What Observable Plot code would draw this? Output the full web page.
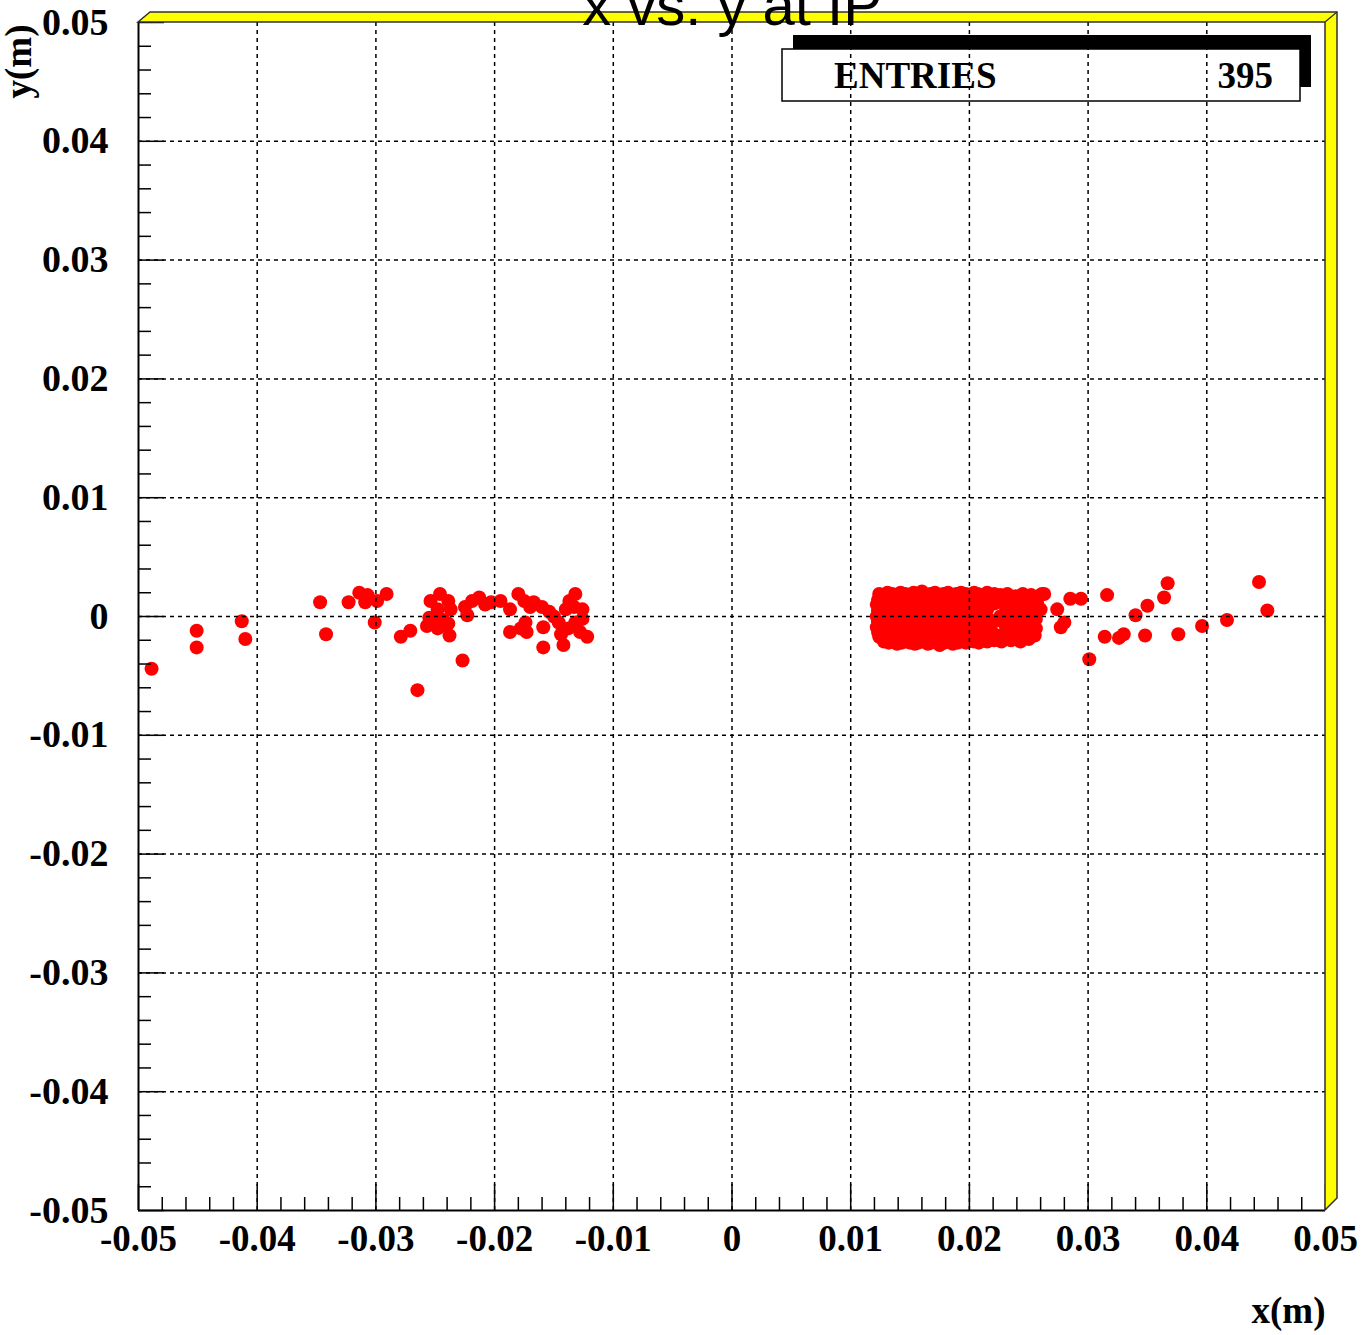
<!DOCTYPE html>
<html>
<head>
<meta charset="utf-8">
<script src="https://cdn.jsdelivr.net/npm/d3@7"></script>
<script src="https://cdn.jsdelivr.net/npm/@observablehq/plot@0.6"></script>
<style>
  html, body { margin: 0; padding: 0; background: white; overflow: hidden; }
</style>
</head>
<body>
<div id="chart"></div>
<script>
// Hit positions at the interaction point, [x (m), y (m)]

// sparse hits on the negative-x side
const leftTail = [
  [-0.0489,-0.0044],[-0.0451,-0.0012],[-0.0451,-0.0026],[-0.0413,-0.0004],[-0.0410,-0.0019],
  [-0.0347,0.0012],[-0.0342,-0.0015],[-0.0323,0.0012],[-0.0314,0.0020],[-0.0307,0.0018],
  [-0.0309,0.0012],[-0.0299,0.0013],[-0.0291,0.0019],[-0.0301,-0.0005],[-0.0279,-0.0017],
  [-0.0271,-0.0012],[-0.0265,-0.0062],[-0.0227,-0.0037],[-0.0246,0.0019],[-0.0254,0.0013],
  [-0.0239,0.0013],[-0.0248,0.0006],[-0.0237,0.0006],[-0.0255,-0.0001],[-0.0257,-0.0008],
  [-0.0246,-0.0008],[-0.0239,-0.0006],[-0.0238,-0.0016],[-0.0248,-0.0010],[-0.0223,0.0001],
  [-0.0219,0.0013],[-0.0225,0.0008],[-0.0213,0.0016],[-0.0203,0.0012],[-0.0195,0.0013],
  [-0.0180,0.0019],[-0.0175,0.0013],[-0.0187,0.0006],[-0.0167,0.0012],[-0.0160,0.0008],
  [-0.0154,0.0004],[-0.0187,-0.0013],[-0.0178,-0.0010],[-0.0174,-0.0005],[-0.0173,-0.0013],
  [-0.0159,-0.0009],[-0.0159,-0.0026],[-0.0146,-0.0005],[-0.0140,0.0006],[-0.0137,0.0013],
  [-0.0132,0.0019],[-0.0133,0.0008],[-0.0144,-0.0015],[-0.0142,-0.0024],[-0.0132,-0.0005],
  [-0.0126,-0.0002],[-0.0122,-0.0017],[-0.0128,-0.0013],[-0.0138,-0.0010],[-0.0250,0.0000],
  [-0.0243,-0.0003],[-0.0170,0.0008],[-0.0150,0.0000],[-0.0208,0.0010],[-0.0126,0.0006]
];

// dense core of the beam spot, x 0.012 .. 0.022
const coreDense = [
  [0.0124,0.0019],[0.0128,0.0018],[0.0131,0.0020],[0.0135,0.0019],[0.0139,0.0017],[0.0142,0.0020],[0.0146,0.0019],
  [0.0150,0.0018],[0.0153,0.0020],[0.0156,0.0019],[0.0160,0.0021],[0.0164,0.0018],[0.0167,0.0019],[0.0171,0.0020],
  [0.0175,0.0018],[0.0178,0.0019],[0.0182,0.0020],[0.0186,0.0018],[0.0189,0.0019],[0.0193,0.0020],[0.0197,0.0019],
  [0.0200,0.0018],[0.0204,0.0020],[0.0207,0.0019],[0.0211,0.0018],[0.0215,0.0020],[0.0218,0.0017],[0.0221,0.0019],

  [0.0123,0.0014],[0.0126,0.0015],[0.0130,0.0013],[0.0134,0.0014],[0.0137,0.0015],[0.0141,0.0013],[0.0144,0.0014],
  [0.0148,0.0015],[0.0152,0.0014],[0.0155,0.0013],[0.0159,0.0015],[0.0162,0.0014],[0.0166,0.0013],[0.0170,0.0015],
  [0.0173,0.0014],[0.0177,0.0013],[0.0180,0.0015],[0.0184,0.0014],[0.0188,0.0013],[0.0191,0.0015],[0.0195,0.0014],
  [0.0198,0.0013],[0.0202,0.0015],[0.0206,0.0014],[0.0209,0.0013],[0.0213,0.0015],[0.0216,0.0014],[0.0220,0.0013],

  [0.0122,0.0010],[0.0126,0.0009],[0.0129,0.0011],[0.0133,0.0010],[0.0136,0.0009],[0.0140,0.0011],[0.0143,0.0010],
  [0.0147,0.0009],[0.0151,0.0011],[0.0154,0.0010],[0.0158,0.0009],[0.0161,0.0011],[0.0165,0.0010],[0.0169,0.0009],
  [0.0172,0.0011],[0.0176,0.0010],[0.0179,0.0009],[0.0183,0.0011],[0.0187,0.0010],[0.0190,0.0009],[0.0194,0.0011],
  [0.0197,0.0010],[0.0201,0.0009],[0.0205,0.0011],[0.0208,0.0010],[0.0212,0.0011],[0.0217,0.0012],[0.0221,0.0011],

  [0.0123,0.0005],[0.0127,0.0006],[0.0130,0.0004],[0.0134,0.0005],[0.0137,0.0006],[0.0141,0.0004],[0.0144,0.0005],
  [0.0148,0.0006],[0.0151,0.0004],[0.0155,0.0005],[0.0158,0.0006],[0.0162,0.0004],[0.0165,0.0005],[0.0169,0.0006],
  [0.0172,0.0004],[0.0175,0.0005],[0.0179,0.0006],[0.0182,0.0004],[0.0186,0.0005],[0.0189,0.0006],[0.0192,0.0004],
  [0.0196,0.0005],[0.0199,0.0006],[0.0203,0.0004],[0.0206,0.0005],[0.0209,0.0006],[0.0212,0.0004],[0.0215,0.0006],

  [0.0122,0.0000],[0.0126,0.0001],[0.0129,-0.0001],[0.0133,0.0000],[0.0137,0.0001],[0.0140,-0.0001],[0.0144,0.0000],
  [0.0147,0.0001],[0.0151,-0.0001],[0.0154,0.0000],[0.0158,0.0001],[0.0161,-0.0001],[0.0165,0.0000],[0.0168,0.0001],
  [0.0172,-0.0001],[0.0175,0.0000],[0.0179,0.0001],[0.0182,-0.0001],[0.0186,0.0000],[0.0189,0.0001],[0.0193,-0.0001],
  [0.0196,0.0000],[0.0200,0.0001],[0.0203,-0.0001],[0.0207,0.0000],[0.0211,0.0001],[0.0215,-0.0001],

  [0.0123,-0.0004],[0.0127,-0.0005],[0.0130,-0.0003],[0.0134,-0.0004],[0.0138,-0.0005],[0.0141,-0.0003],[0.0145,-0.0004],
  [0.0148,-0.0005],[0.0152,-0.0003],[0.0156,-0.0004],[0.0159,-0.0005],[0.0163,-0.0003],[0.0166,-0.0004],[0.0170,-0.0005],
  [0.0174,-0.0003],[0.0177,-0.0004],[0.0181,-0.0005],[0.0184,-0.0003],[0.0188,-0.0004],[0.0192,-0.0005],[0.0195,-0.0003],
  [0.0199,-0.0004],[0.0203,-0.0005],[0.0206,-0.0003],[0.0210,-0.0004],[0.0215,-0.0005],[0.0221,-0.0004],

  [0.0122,-0.0009],[0.0126,-0.0008],[0.0129,-0.0010],[0.0133,-0.0009],[0.0136,-0.0008],[0.0140,-0.0010],[0.0144,-0.0009],
  [0.0147,-0.0008],[0.0151,-0.0010],[0.0155,-0.0009],[0.0158,-0.0008],[0.0162,-0.0010],[0.0165,-0.0009],[0.0169,-0.0008],
  [0.0173,-0.0010],[0.0176,-0.0009],[0.0180,-0.0008],[0.0183,-0.0010],[0.0187,-0.0009],[0.0191,-0.0008],[0.0194,-0.0010],
  [0.0198,-0.0009],[0.0201,-0.0008],[0.0205,-0.0010],[0.0209,-0.0009],[0.0213,-0.0008],[0.0217,-0.0010],

  [0.0123,-0.0013],[0.0127,-0.0014],[0.0130,-0.0012],[0.0134,-0.0013],[0.0137,-0.0014],[0.0141,-0.0012],[0.0145,-0.0013],
  [0.0148,-0.0014],[0.0152,-0.0012],[0.0155,-0.0013],[0.0159,-0.0014],[0.0163,-0.0012],[0.0166,-0.0013],[0.0170,-0.0014],
  [0.0173,-0.0012],[0.0177,-0.0013],[0.0181,-0.0014],[0.0184,-0.0012],[0.0188,-0.0013],[0.0191,-0.0014],[0.0195,-0.0012],
  [0.0199,-0.0013],[0.0202,-0.0014],[0.0206,-0.0012],[0.0210,-0.0013],[0.0214,-0.0014],[0.0219,-0.0013],

  [0.0124,-0.0017],[0.0127,-0.0018],[0.0131,-0.0019],[0.0135,-0.0018],[0.0138,-0.0017],[0.0142,-0.0019],[0.0146,-0.0018],
  [0.0149,-0.0017],[0.0153,-0.0019],[0.0156,-0.0018],[0.0160,-0.0017],[0.0164,-0.0019],[0.0167,-0.0018],[0.0171,-0.0017],
  [0.0174,-0.0019],[0.0178,-0.0018],[0.0182,-0.0017],[0.0185,-0.0019],[0.0189,-0.0018],[0.0192,-0.0017],[0.0196,-0.0019],
  [0.0200,-0.0018],[0.0203,-0.0017],[0.0207,-0.0019],[0.0211,-0.0018],[0.0215,-0.0017],[0.0219,-0.0018],

  [0.0128,-0.0021],[0.0132,-0.0022],[0.0136,-0.0021],[0.0139,-0.0023],[0.0143,-0.0022],[0.0147,-0.0021],[0.0150,-0.0022],
  [0.0154,-0.0023],[0.0157,-0.0022],[0.0161,-0.0021],[0.0165,-0.0023],[0.0168,-0.0022],[0.0172,-0.0021],[0.0175,-0.0024],
  [0.0179,-0.0022],[0.0182,-0.0021],[0.0186,-0.0023],[0.0190,-0.0022],[0.0193,-0.0021],[0.0197,-0.0022],[0.0200,-0.0020],
  [0.0204,-0.0021],[0.0208,-0.0022],[0.0211,-0.0020],[0.0215,-0.0021],[0.0218,-0.0019],[0.0221,-0.0020]
];

// looser fringe of the core, x 0.022 .. 0.027
const coreFringe = [
  [0.0226,0.0018],[0.0232,0.0019],[0.0239,0.0017],[0.0245,0.0019],[0.0252,0.0018],[0.0258,0.0017],[0.0263,0.0019],
  [0.0228,0.0012],[0.0236,0.0013],[0.0243,0.0011],[0.0250,0.0013],[0.0257,0.0011],
  [0.0231,0.0006],[0.0240,0.0006],[0.0250,0.0005],[0.0260,0.0006],
  [0.0226,0.0000],[0.0235,-0.0001],[0.0246,0.0000],[0.0256,-0.0002],
  [0.0230,-0.0007],[0.0242,-0.0006],[0.0253,-0.0007],
  [0.0237,-0.0012],[0.0246,-0.0011],[0.0256,-0.0010],
  [0.0226,-0.0016],[0.0233,-0.0017],[0.0240,-0.0016],[0.0248,-0.0017],[0.0255,-0.0016],
  [0.0227,-0.0021],[0.0235,-0.0020],[0.0243,-0.0021],[0.0250,-0.0019]
];

// sparse hits beyond the core on the positive-x side
const rightTail = [
  [0.0261,0.0019],[0.0274,0.0006],[0.0277,-0.0009],[0.0280,-0.0005],[0.0285,0.0015],
  [0.0294,0.0015],[0.0301,-0.0036],[0.0314,-0.0017],[0.0316,0.0018],[0.0326,-0.0018],
  [0.0330,-0.0015],[0.0340,0.0001],[0.0348,-0.0016],[0.0350,0.0009],[0.0364,0.0016],
  [0.0367,0.0028],[0.0376,-0.0015],[0.0396,-0.0008],[0.0417,-0.0003],[0.0444,0.0029],
  [0.0451,0.0005]
];

// axes
const majorTicks = [-0.05, -0.04, -0.03, -0.02, -0.01, 0, 0.01, 0.02, 0.03, 0.04, 0.05];
const tickLabels = ["-0.05", "-0.04", "-0.03", "-0.02", "-0.01", "0", "0.01", "0.02", "0.03", "0.04", "0.05"];
const titleText = "x vs. y at IP";
const xTitle = "x(m)";
const yTitle = "y(m)";
const statsName = "ENTRIES";

const hits = [...leftTail, ...coreDense, ...coreFringe, ...rightTail].map(([x, y]) => ({x, y}));

// five subdivisions per major division
const minorTicks = d3.range(-25, 26)
  .filter(k => k % 5 !== 0)
  .map(k => +(k * 0.002).toFixed(3));
const innerTicks = majorTicks.slice(1, -1);
const fmt = d => tickLabels[majorTicks.indexOf(d)];

const W = 1372, H = 1335;
const M = {top: 22, right: 47, bottom: 125, left: 138};
const frameW = W - M.left - M.right;
const frameH = H - M.top - M.bottom;

const serif = "'Liberation Serif', 'Times New Roman', Times, serif";
const sans = "'Liberation Sans', Arial, Helvetica, sans-serif";

// statistics box with its drop shadow, at the top right of the frame
function statsBox(index, scales, values, dims) {
  const g = d3.create("svg:g");
  const right = dims.width - dims.marginRight - 25;
  const top = dims.marginTop + 27;
  const w = 518, h = 52;
  g.append("rect")
    .attr("x", right - w + 11).attr("y", top - 14)
    .attr("width", w).attr("height", h)
    .attr("fill", "black");
  g.append("rect")
    .attr("x", right - w).attr("y", top)
    .attr("width", w).attr("height", h)
    .attr("fill", "white").attr("stroke", "black").attr("stroke-width", 1.5);
  g.append("text")
    .attr("x", right - w + 52).attr("y", top + 39)
    .attr("text-anchor", "start")
    .attr("font-family", serif).attr("font-weight", "bold").attr("font-size", 37)
    .attr("fill", "black")
    .text(statsName);
  g.append("text")
    .attr("x", right - 27).attr("y", top + 39)
    .attr("text-anchor", "end")
    .attr("font-family", serif).attr("font-weight", "bold").attr("font-size", 37)
    .attr("fill", "black")
    .text(String(hits.length));
  return g.node();
}

// raised yellow border along the top and right of the frame
function bevel(index, scales, values, dims) {
  const l = dims.marginLeft, r = dims.width - dims.marginRight;
  const t = dims.marginTop, b = dims.height - dims.marginBottom;
  const dx = 12, dy = 10;
  const g = d3.create("svg:g");
  g.append("polygon")
    .attr("points", [[l, t], [l + dx, t - dy], [r + dx, t - dy], [r + dx, b - dx], [r, b], [r, t]].join(" "))
    .attr("fill", "#ffff00")
    .attr("stroke", "#303030")
    .attr("stroke-width", 1.5)
    .attr("stroke-linejoin", "miter");
  g.append("line")
    .attr("x1", r).attr("y1", t).attr("x2", r + dx).attr("y2", t - dy)
    .attr("stroke", "#303030").attr("stroke-width", 1.2);
  return g.node();
}

const plot = Plot.plot({
  width: W,
  height: H,
  marginTop: M.top,
  marginRight: M.right,
  marginBottom: M.bottom,
  marginLeft: M.left,
  x: {domain: [-0.05, 0.05], axis: null},
  y: {domain: [-0.05, 0.05], axis: null},
  style: {background: "white", overflow: "visible"},
  marks: [
    Plot.dot(hits, {x: "x", y: "y", r: 7, fill: "#ff0000", stroke: "none"}),
    statsBox,
    Plot.gridX(innerTicks, {stroke: "black", strokeOpacity: 1, strokeWidth: 1.5, strokeDasharray: "4,4"}),
    Plot.gridY(innerTicks, {stroke: "black", strokeOpacity: 1, strokeWidth: 1.5, strokeDasharray: "4,4"}),
    Plot.tickX(minorTicks, {x: d => d, insetTop: frameH - 13, stroke: "black", strokeWidth: 1.5}),
    Plot.tickX(majorTicks, {x: d => d, insetTop: frameH - 26, stroke: "black", strokeWidth: 1.5}),
    Plot.tickY(minorTicks, {y: d => d, insetRight: frameW - 13, stroke: "black", strokeWidth: 1.5}),
    Plot.tickY(majorTicks, {y: d => d, insetRight: frameW - 26, stroke: "black", strokeWidth: 1.5}),
    Plot.ruleX([-0.05], {stroke: "black", strokeWidth: 2}),
    Plot.ruleY([-0.05], {stroke: "black", strokeWidth: 2}),
    Plot.axisX(majorTicks, {
      anchor: "bottom", tickSize: 0, tickPadding: 14, tickFormat: fmt, label: null,
      fontFamily: serif, fontWeight: "bold", fontSize: 37, fill: "black"
    }),
    Plot.axisY(majorTicks, {
      anchor: "left", tickSize: 0, tickPadding: 30, tickFormat: fmt, label: null,
      fontFamily: serif, fontWeight: "bold", fontSize: 38, fill: "black"
    }),
    Plot.text([xTitle], {
      frameAnchor: "bottom-right", textAnchor: "end", lineAnchor: "bottom", dy: 112,
      fontFamily: serif, fontWeight: "bold", fontSize: 37, fill: "black"
    }),
    Plot.text([yTitle], {
      frameAnchor: "top-left", textAnchor: "end", lineAnchor: "bottom", rotate: -90, dx: -108, dy: 2,
      fontFamily: serif, fontWeight: "bold", fontSize: 37, fill: "black"
    }),
    bevel,
    Plot.text([titleText], {
      frameAnchor: "top", textAnchor: "middle", lineAnchor: "bottom", dy: 2,
      fontFamily: sans, fontSize: 58, fill: "black"
    })
  ]
});

document.getElementById("chart").appendChild(plot);
</script>
</body>
</html>
